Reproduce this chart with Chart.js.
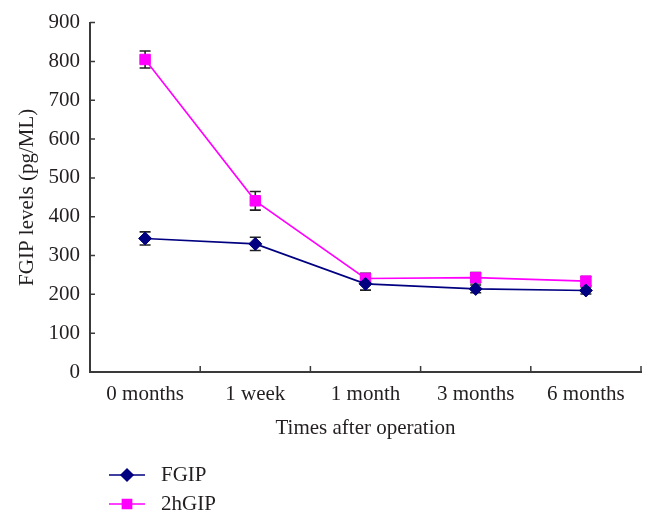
<!DOCTYPE html>
<html>
<head>
<meta charset="utf-8">
<title>FGIP levels | Times after operation</title>
<script src="https://cdn.jsdelivr.net/npm/chart.js@4.4.1/dist/chart.umd.min.js"></script>
<style>
  html, body { margin: 0; padding: 0; background: #fff; }
  #wrap { width: 656px; height: 521px; }
</style>
</head>
<body>
<div id="wrap"><canvas id="gipChart" width="656" height="521"></canvas></div>
<script>
// values
const timePoints = ['0 months', '1 week', '1 month', '3 months', '6 months'];
const fgipValues = [344, 330, 227, 214, 210];
const fgipErrors = [17, 17, 16, 10, 9];
const hgipValues = [805, 441, 241, 243, 234];
const hgipErrors = [22, 24, 13, 13, 12];
const yMin = 0;
const yMax = 900;
const yStep = 100;

const textColor = '#231f20';
const axisColor = '#3a3a3a';
const serif = "'Liberation Serif', 'Times New Roman', serif";
const errorSets = [fgipErrors, hgipErrors];

// vertical error bars with caps, drawn under the markers
const errorBars = {
  id: 'errorBars',
  beforeDatasetsDraw(chart) {
    const ctx = chart.ctx;
    const y = chart.scales.y;
    ctx.save();
    ctx.strokeStyle = '#222';
    ctx.lineWidth = 1.6;
    chart.data.datasets.forEach((ds, i) => {
      const meta = chart.getDatasetMeta(i);
      meta.data.forEach((pt, j) => {
        const err = errorSets[i][j];
        const top = y.getPixelForValue(ds.data[j] + err);
        const bottom = y.getPixelForValue(ds.data[j] - err);
        ctx.beginPath();
        ctx.moveTo(pt.x, top);
        ctx.lineTo(pt.x, bottom);
        ctx.moveTo(pt.x - 5.5, top);
        ctx.lineTo(pt.x + 5.5, top);
        ctx.moveTo(pt.x - 5.5, bottom);
        ctx.lineTo(pt.x + 5.5, bottom);
        ctx.stroke();
      });
    });
    ctx.restore();
  }
};

// short tick marks pointing into the plot
const innerTicks = {
  id: 'innerTicks',
  afterDraw(chart) {
    const ctx = chart.ctx;
    const area = chart.chartArea;
    const x = chart.scales.x;
    const y = chart.scales.y;
    ctx.save();
    ctx.strokeStyle = axisColor;
    ctx.lineWidth = 1.5;
    ctx.beginPath();
    y.ticks.forEach((t, i) => {
      const py = y.getPixelForTick(i);
      ctx.moveTo(area.left, py);
      ctx.lineTo(area.left + 5, py);
    });
    for (let i = 0; i <= timePoints.length; i++) {
      const px = x.getPixelForValue(i - 0.5);
      ctx.moveTo(px, area.bottom);
      ctx.lineTo(px, area.bottom - 6);
    }
    ctx.stroke();
    ctx.restore();
  }
};

// legend stacked under the x axis, left side
const stackedLegend = {
  id: 'stackedLegend',
  afterDraw(chart) {
    const ctx = chart.ctx;
    const left = chart.chartArea.left + 19;
    const rows = [475, 504];
    ctx.save();
    ctx.font = '21px ' + serif;
    ctx.textBaseline = 'middle';
    chart.data.datasets.forEach((ds, i) => {
      const ry = rows[i];
      ctx.strokeStyle = ds.borderColor;
      ctx.fillStyle = ds.backgroundColor;
      ctx.lineWidth = 1.5;
      ctx.beginPath();
      ctx.moveTo(left, ry);
      ctx.lineTo(left + 36, ry);
      ctx.stroke();
      Chart.helpers.drawPoint(ctx, {
        pointStyle: ds.pointStyle,
        radius: ds.pointStyle === 'rect' ? 6.5 : 6,
        rotation: 0,
        borderWidth: 1
      }, left + 18, ry);
      ctx.fillStyle = textColor;
      ctx.fillText(ds.label, left + 52, ry);
    });
    ctx.restore();
  }
};

const ctx = document.getElementById('gipChart').getContext('2d');
new Chart(ctx, {
  type: 'line',
  data: {
    labels: timePoints,
    datasets: [
      {
        label: 'FGIP',
        data: fgipValues,
        borderColor: '#000080',
        backgroundColor: '#000080',
        borderWidth: 1.6,
        pointStyle: 'rectRot',
        pointRadius: 6.5,
        pointBorderWidth: 1,
        fill: false,
        tension: 0
      },
      {
        label: '2hGIP',
        data: hgipValues,
        borderColor: '#ff00ff',
        backgroundColor: '#ff00ff',
        borderWidth: 1.6,
        pointStyle: 'rect',
        pointRadius: 7.4,
        pointBorderWidth: 1,
        fill: false,
        tension: 0
      }
    ]
  },
  options: {
    responsive: false,
    animation: false,
    layout: { padding: { top: 14, right: 15, bottom: 74, left: 0 } },
    plugins: {
      legend: { display: false },
      tooltip: { enabled: false }
    },
    scales: {
      x: {
        type: 'category',
        offset: true,
        grid: { display: false, drawTicks: false },
        border: { display: true, color: axisColor, width: 2 },
        ticks: {
          color: textColor,
          font: { family: serif, size: 21 },
          padding: 10,
          maxRotation: 0,
          autoSkip: false
        },
        title: {
          display: true,
          text: 'Times after operation',
          color: textColor,
          font: { family: serif, size: 21 },
          padding: { top: 4, bottom: 6 }
        },
        afterFit(scale) { scale.height = 75; }
      },
      y: {
        min: yMin,
        max: yMax,
        grid: { display: false, drawTicks: false },
        border: { display: true, color: axisColor, width: 2 },
        ticks: {
          stepSize: yStep,
          color: textColor,
          font: { family: serif, size: 21 },
          padding: 10
        },
        title: {
          display: true,
          text: 'FGIP levels (pg/ML)',
          color: textColor,
          font: { family: serif, size: 21 },
          padding: { top: 15, bottom: 0 }
        },
        afterFit(scale) { scale.width = 90; }
      }
    }
  },
  plugins: [errorBars, innerTicks, stackedLegend]
});
</script>
</body>
</html>
